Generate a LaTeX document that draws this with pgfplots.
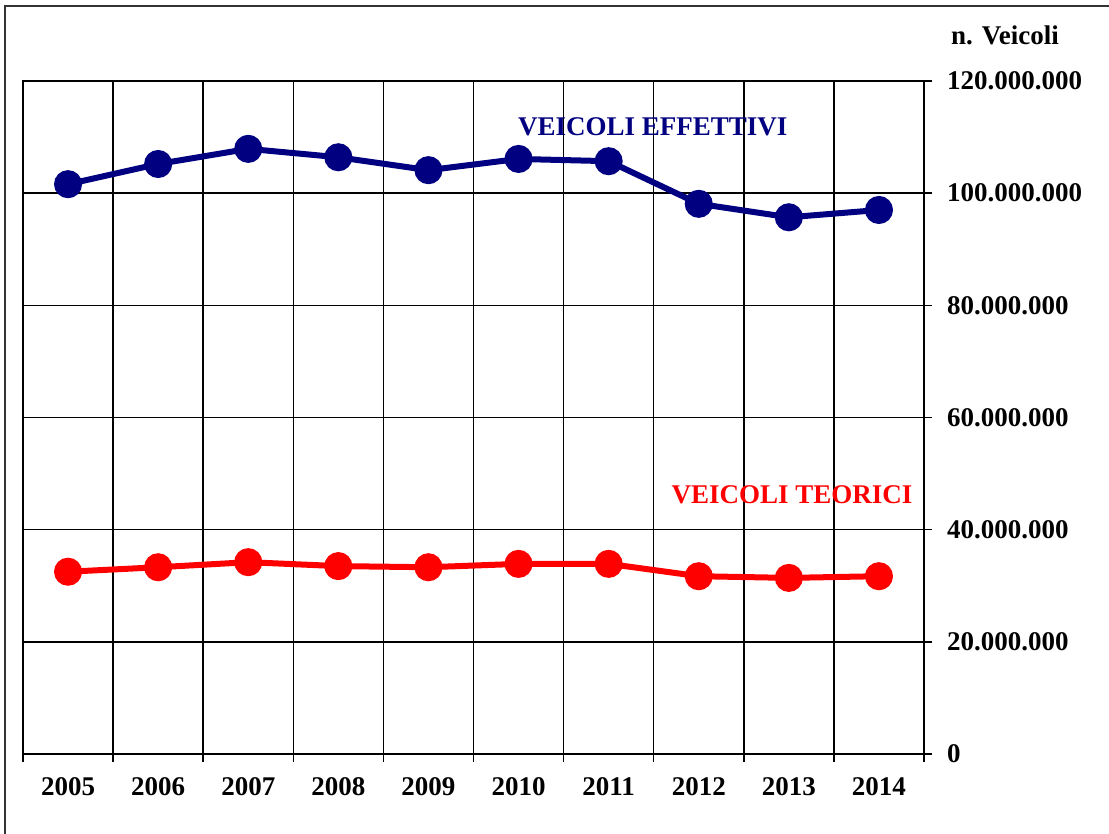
\documentclass[border=0pt]{standalone}
\usepackage{pgfplots}
\pgfplotsset{compat=1.18}
\usepackage{fontspec}
\setmainfont{Liberation Serif}
\definecolor{navyb}{RGB}{0,0,128}
\definecolor{redr}{RGB}{255,0,0}
\begin{document}
\begin{tikzpicture}
\begin{axis}[
  at={(0pt,0pt)}, anchor=south west,
  scale only axis,
  width=450.5pt, height=336.5pt,
  xmin=0, xmax=10, ymin=0, ymax=120000000,
  xtick={0.5,1.5,...,9.5},
  xticklabels={2005,2006,2007,2008,2009,2010,2011,2012,2013,2014},
  minor xtick={0,1,...,10},
  xminorgrids=true, xmajorgrids=false,
  ytick={0,20000000,40000000,60000000,80000000,100000000,120000000},
  yticklabels={0,20.000.000,40.000.000,60.000.000,80.000.000,100.000.000,120.000.000},
  ymajorgrids=true,
  ytick pos=right, yticklabel pos=right,
  xtick pos=bottom,
  tick align=outside,
  major x tick style={draw=none},
  minor tick length=4pt, major tick length=4pt,
  tick style={black, line width=0.75pt},
  minor tick style={black, line width=0.75pt},
  grid style={black, line width=0.75pt},
  minor grid style={black, line width=0.75pt},
  axis line style={black, line width=0.75pt},
  ticklabel style={font=\fontsize{13.5}{16}\selectfont\bfseries},
  yticklabel style={anchor=west, xshift=4pt},
  xticklabel style={yshift=-4pt},
  scaled y ticks=false,
  clip=false,
]
\addplot[navyb, line width=3pt, mark=*, mark size=5.5pt, mark options={solid}] coordinates {
(0.5,101600000) (1.5,105200000) (2.5,107900000) (3.5,106400000) (4.5,104100000)
(5.5,106100000) (6.5,105700000) (7.5,98100000) (8.5,95700000) (9.5,97000000)};
\addplot[redr, line width=3pt, mark=*, mark size=5.5pt, mark options={solid}] coordinates {
(0.5,32500000) (1.5,33300000) (2.5,34200000) (3.5,33500000) (4.5,33300000)
(5.5,33900000) (6.5,33900000) (7.5,31700000) (8.5,31400000) (9.5,31700000)};
\node[navyb, font=\fontsize{13.5}{16}\selectfont\bfseries] at (axis cs:6.99,111800000) {VEICOLI EFFETTIVI};
\node[redr, font=\fontsize{13.5}{16}\selectfont\bfseries] at (axis cs:8.535,46200000) {VEICOLI TEORICI};
\end{axis}
\node[font=\fontsize{13.5}{16}\selectfont\bfseries] at (491pt,359.5pt) {n. Veicoli};
\draw[black!80, line width=1pt] (-9pt,374pt) rectangle (545pt,-42pt);
\pgfresetboundingbox
\useasboundingbox (-11.5pt,-40pt) rectangle (543pt,377pt);
\end{tikzpicture}
\end{document}
